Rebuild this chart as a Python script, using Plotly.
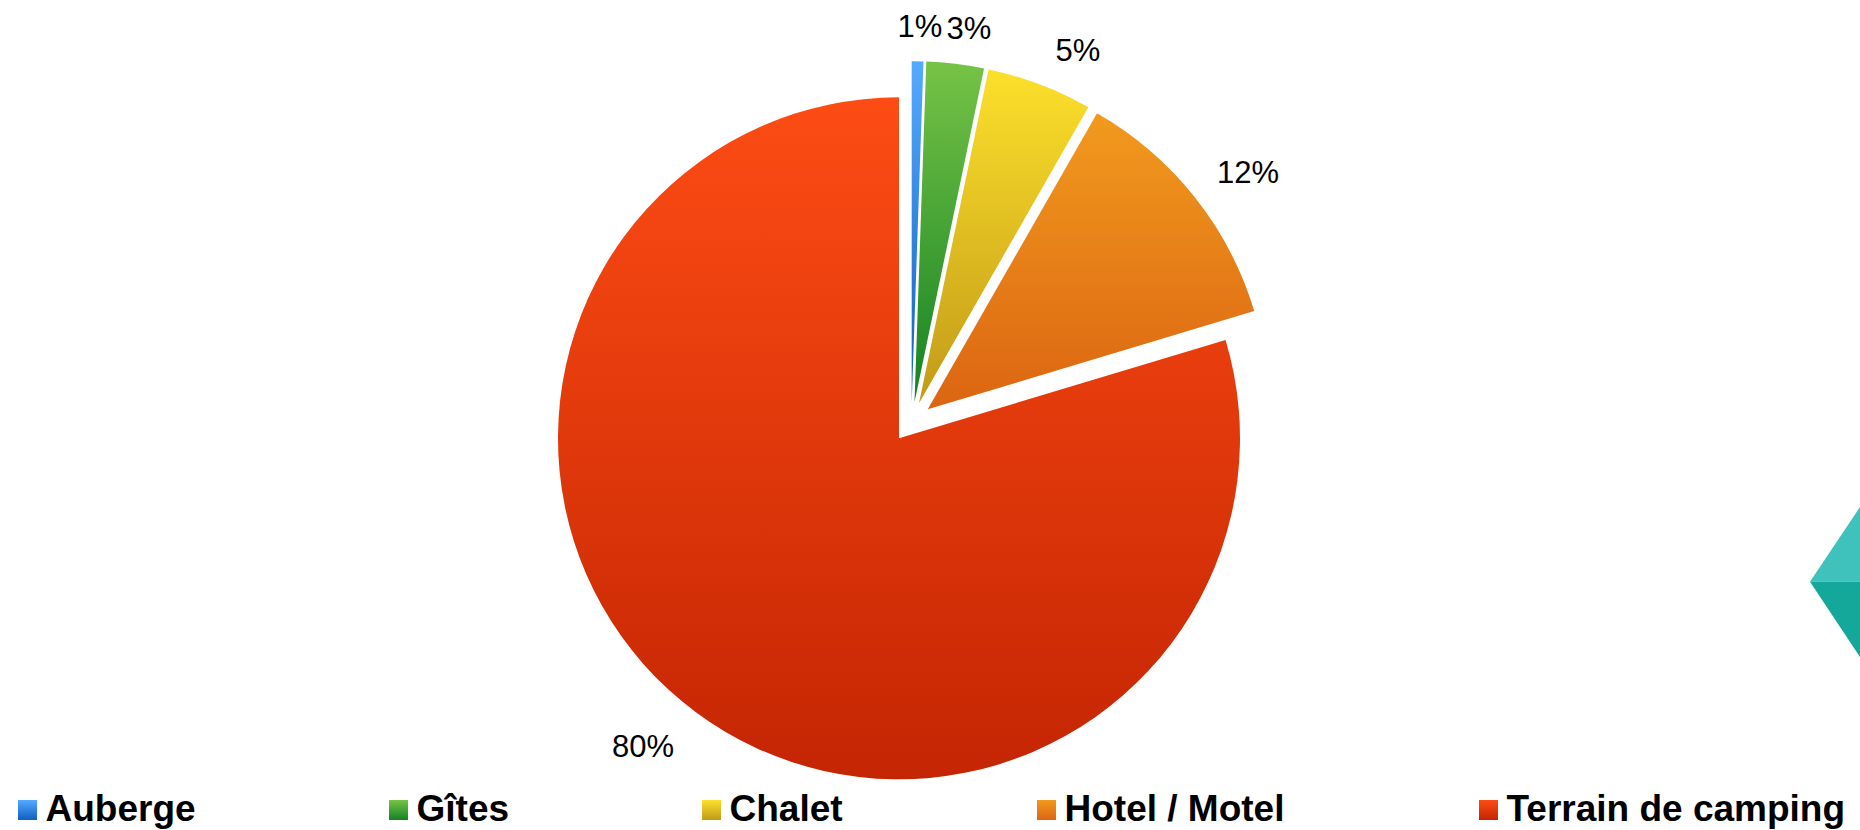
import json
import plotly.graph_objects as go

# Data
categories = ["Auberge", "Gîtes", "Chalet", "Hotel / Motel", "Terrain de camping"]
shares = [0.55, 2.72, 5.0, 12.08, 79.65]

# Style
W, H = 1860, 830
CX, CY, R = 899, 438.3, 341
gradient_top = ["#55AAFF", "#76C346", "#FCE02B", "#F19A1E", "#FD4C14"]
gradient_bottom = ["#0F5FBF", "#148224", "#C29A18", "#DC6512", "#C42503"]
explode_px = [[12.7, -36], [15.5, -36], [20, -35], [28.7, -29], [0, 0]]
label_centres = [[920, 26], [969, 28], [1078, 50], [1248, 172], [643, 746]]
legend_x = [18, 389, 702, 1037, 1479]

fig = go.Figure(go.Pie(
    labels=categories,
    values=shares,
    sort=False,
    direction="clockwise",
    rotation=0,
    textinfo="percent",
    texttemplate="%{percent:.0%}",
    textposition="outside",
    outsidetextfont=dict(family="Liberation Sans", size=31, color="#000000"),
    automargin=False,
    marker=dict(colors=gradient_top, line=dict(width=0)),
    domain=dict(x=[(CX - R) / W, (CX + R) / W],
                y=[(H - CY - R) / H, (H - CY + R) / H]),
    hoverinfo="skip",
))


def diamond(points, colour):
    path = "M" + "L".join(f"{x / W},{1 - y / H}" for x, y in points) + "Z"
    return dict(type="path", xref="paper", yref="paper", path=path,
                fillcolor=colour, line=dict(width=0), layer="below")


fig.update_layout(
    width=W, height=H,
    margin=dict(l=0, r=0, t=0, b=0, autoexpand=False),
    paper_bgcolor="#FFFFFF",
    showlegend=True,
    legend=dict(orientation="h", x=0, y=0.08, xanchor="left", yanchor="top",
                font=dict(family="Liberation Sans", size=37, color="#000000", weight=700),
                bgcolor="rgba(0,0,0,0)"),
    font=dict(family="Liberation Sans"),
    shapes=[
        diamond([(1810, 581.7), (1860, 507), (1860, 581.7)], "#3FC1BC"),
        diamond([(1810, 581.7), (1860, 581.7), (1860, 657)], "#14A89B"),
    ],
)

post = """
document.body.style.margin = '0';
document.documentElement.style.overflow = 'hidden';
var gd = document.getElementById('{plot_id}');
var TOP = __TOP__, BOT = __BOT__, EXP = __EXP__, LAB = __LAB__, LEGX = __LEGX__;
var svg = gd.querySelector('svg.main-svg');
var NS = 'http://www.w3.org/2000/svg';
var defs = svg.querySelector('defs');
TOP.forEach(function (c, i) {
  var g = document.createElementNS(NS, 'linearGradient');
  g.setAttribute('id', 'sliceGrad' + i);
  g.setAttribute('x1', '0'); g.setAttribute('y1', '0');
  g.setAttribute('x2', '0'); g.setAttribute('y2', '1');
  [[0, c], [1, BOT[i]]].forEach(function (s) {
    var st = document.createElementNS(NS, 'stop');
    st.setAttribute('offset', s[0]);
    st.setAttribute('stop-color', s[1]);
    g.appendChild(st);
  });
  defs.appendChild(g);
});
gd.querySelectorAll('path.textline').forEach(function (e) { e.remove(); });
gd.querySelectorAll('g.slice').forEach(function (sl, i) {
  var p = sl.querySelector('path.surface');
  p.style.fill = 'url(#sliceGrad' + i + ')';
  p.style.stroke = 'none';
  p.setAttribute('transform', 'translate(' + EXP[i][0] + ',' + EXP[i][1] + ')');
  var t = sl.querySelector('text');
  if (t) {
    var b = t.getBoundingClientRect();
    var dx = LAB[i][0] - (b.left + b.width / 2);
    var dy = LAB[i][1] - (b.top + b.height / 2);
    t.setAttribute('transform', 'translate(' + dx + ',' + dy + ') ' + (t.getAttribute('transform') || ''));
  }
});
var leg = gd.querySelector('g.legend');
leg.setAttribute('transform', 'translate(0,810)');
leg.querySelectorAll('[clip-path]').forEach(function (e) { e.removeAttribute('clip-path'); });
leg.querySelectorAll('g.traces').forEach(function (tr, i) {
  tr.setAttribute('transform', 'translate(' + LEGX[i] + ',0)');
  var sw = tr.querySelector('path.legendpie');
  sw.setAttribute('d', 'M0,-10H19V10H0Z');
  sw.setAttribute('transform', 'translate(0,0)');
  sw.style.fill = 'url(#sliceGrad' + i + ')';
  sw.style.stroke = 'none';
  var t = tr.querySelector('text.legendtext');
  t.setAttribute('x', '27.5');
  t.setAttribute('y', '11');
});
"""
post = (post.replace("__TOP__", json.dumps(gradient_top))
        .replace("__BOT__", json.dumps(gradient_bottom))
        .replace("__EXP__", json.dumps(explode_px))
        .replace("__LAB__", json.dumps(label_centres))
        .replace("__LEGX__", json.dumps(legend_x)))

fig.write_html("out.html", post_script=post, config=dict(displayModeBar=False))
